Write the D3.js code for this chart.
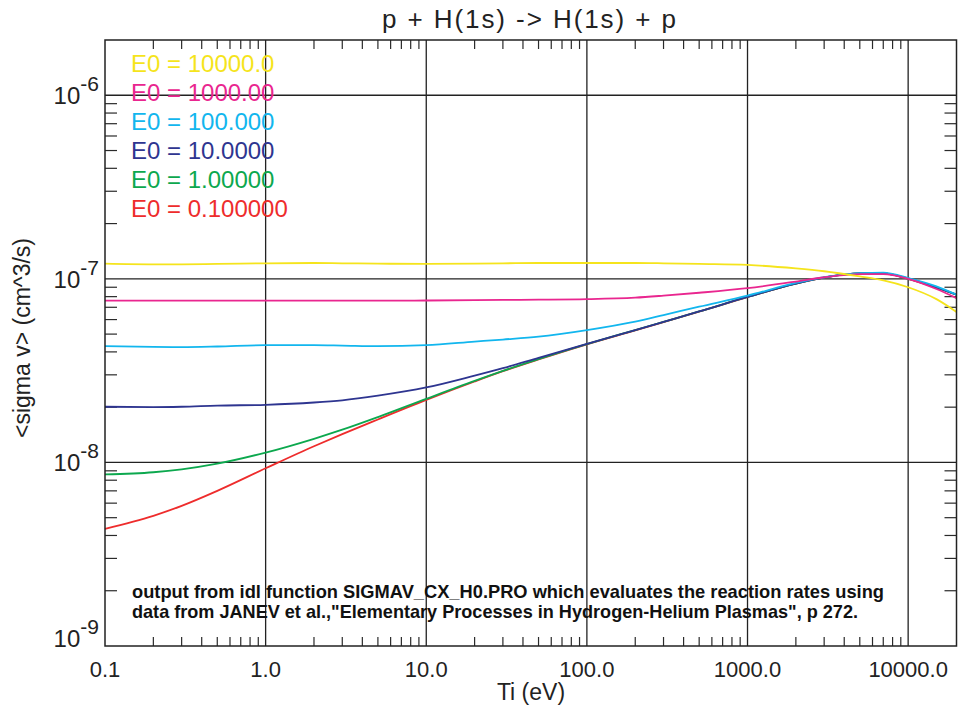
<!DOCTYPE html>
<html><head><meta charset="utf-8">
<script src="https://cdn.jsdelivr.net/npm/d3@7"></script>
<style>body{margin:0;background:#fff}svg{display:block}text{font-family:"Liberation Sans",Arial,Helvetica,sans-serif}</style>
</head><body><svg id="c" width="958" height="712"></svg>
<script>
// ---- data ----
const tiEv = [0.1,0.2,0.3,0.5,1,2,3,5,10,20,30,50,100,200,300,500,1000,2000,3000,5000,7000,10000,15000,20000];
const e0Labels = ["E0 = 10000.0","E0 = 1000.00","E0 = 100.000","E0 = 10.0000","E0 = 1.00000","E0 = 0.100000"];
const e0Colors = ["#f5e41c","#e9268f","#12b6ee","#2e3590","#0ca84e","#ee2c2c"];
const rateE0_10000 = [1.21e-7,1.20e-7,1.20e-7,1.205e-7,1.215e-7,1.22e-7,1.215e-7,1.21e-7,1.205e-7,1.21e-7,1.215e-7,1.22e-7,1.22e-7,1.22e-7,1.215e-7,1.205e-7,1.19e-7,1.14e-7,1.10e-7,1.03e-7,9.8e-8,9.0e-8,7.75e-8,6.6e-8];
const rateE0_1000  = [7.6e-8,7.6e-8,7.6e-8,7.6e-8,7.6e-8,7.6e-8,7.6e-8,7.6e-8,7.62e-8,7.65e-8,7.68e-8,7.7e-8,7.75e-8,7.9e-8,8.1e-8,8.4e-8,8.9e-8,9.67e-8,1.02e-7,1.06e-7,1.06e-7,1.0e-7,8.8e-8,7.85e-8];
const rateE0_100   = [4.3e-8,4.26e-8,4.25e-8,4.28e-8,4.35e-8,4.35e-8,4.33e-8,4.3e-8,4.35e-8,4.55e-8,4.67e-8,4.84e-8,5.26e-8,5.85e-8,6.35e-8,7.05e-8,8.1e-8,9.5e-8,1.02e-7,1.075e-7,1.08e-7,1.01e-7,9.1e-8,8.2e-8];
const rateE0_10    = [2.01e-8,2.0e-8,2.01e-8,2.04e-8,2.06e-8,2.12e-8,2.18e-8,2.31e-8,2.56e-8,2.97e-8,3.26e-8,3.71e-8,4.42e-8,5.26e-8,5.83e-8,6.64e-8,7.97e-8,9.43e-8,1.016e-7,1.07e-7,1.07e-7,1.005e-7,8.97e-8,8.2e-8];
const rateE0_1     = [8.6e-9,8.84e-9,9.17e-9,9.85e-9,1.131e-8,1.345e-8,1.507e-8,1.766e-8,2.22e-8,2.78e-8,3.153e-8,3.656e-8,4.41e-8,5.26e-8,5.83e-8,6.64e-8,7.97e-8,9.43e-8,1.016e-7,1.07e-7,1.07e-7,1.0e-7,8.95e-8,8.2e-8];
const rateE0_01    = [4.35e-9,5.12e-9,5.8e-9,7.0e-9,9.29e-9,1.225e-8,1.426e-8,1.714e-8,2.19e-8,2.76e-8,3.14e-8,3.64e-8,4.40e-8,5.24e-8,5.81e-8,6.62e-8,7.95e-8,9.42e-8,1.015e-7,1.07e-7,1.07e-7,1.0e-7,8.95e-8,8.2e-8];
const xTickValues = [0.1,1,10,100,1000,10000];
const xTickLabels = ["0.1","1.0","10.0","100.0","1000.0","10000.0"];
const yTickValues = [1e-9,1e-8,1e-7,1e-6];
const yTickExponents = ["-9","-8","-7","-6"];
const titleText = "p + H(1s) -> H(1s) + p";
const xTitle = "Ti (eV)";
const yTitle = "<sigma v> (cm^3/s)";
const noteLines = ["output from idl function SIGMAV_CX_H0.PRO which evaluates the reaction rates using",
                   "data from JANEV et al.,\"Elementary Processes in Hydrogen-Helium Plasmas\", p 272."];

const seriesRates = [rateE0_10000, rateE0_1000, rateE0_100, rateE0_10, rateE0_1, rateE0_01];

// ---- layout ----
const L = 105, R = 956.5, T = 40, B = 646;
const svg = d3.select("#c");
const x = d3.scaleLog().domain([0.1, 20000]).range([L, R]);
const y = d3.scaleLog().domain([1e-9, 2e-6]).range([B, T]);

// minor ticks
const xMinor = [], yMinor = [];
for (let k = -1; k <= 3; k++) for (let m = 2; m <= 9; m++) xMinor.push(m * Math.pow(10, k));
for (let k = -9; k <= -7; k++) for (let m = 2; m <= 9; m++) yMinor.push(m * Math.pow(10, k));

const axisG = svg.append("g").attr("stroke", "#2a2a2a").attr("stroke-width", 1.2);
axisG.selectAll(".xb").data(xMinor).join("line")
  .attr("x1", d => x(d)).attr("x2", d => x(d)).attr("y1", B).attr("y2", B - 9);
axisG.selectAll(".xt").data(xMinor).join("line")
  .attr("x1", d => x(d)).attr("x2", d => x(d)).attr("y1", T).attr("y2", T + 9);
axisG.selectAll(".yl").data(yMinor).join("line")
  .attr("y1", d => y(d)).attr("y2", d => y(d)).attr("x1", L).attr("x2", L + 12);
axisG.selectAll(".yr").data(yMinor).join("line")
  .attr("y1", d => y(d)).attr("y2", d => y(d)).attr("x1", R).attr("x2", R - 12);

// grid
const gridG = svg.append("g").attr("stroke", "#222").attr("stroke-width", 1.3);
gridG.selectAll(".gx").data(xTickValues.slice(1)).join("line")
  .attr("x1", d => x(d)).attr("x2", d => x(d)).attr("y1", T).attr("y2", B);
gridG.selectAll(".gy").data(yTickValues.slice(1)).join("line")
  .attr("y1", d => y(d)).attr("y2", d => y(d)).attr("x1", L).attr("x2", R);

// curves (drawn from lowest E0 up)
const line = d3.line().x(d => x(d[0])).y(d => y(d[1])).curve(d3.curveMonotoneX);
const order = [5, 4, 3, 2, 1, 0];
svg.append("g").attr("fill", "none").attr("stroke-width", 1.8)
  .selectAll("path").data(order).join("path")
  .attr("stroke", i => e0Colors[i])
  .attr("d", i => line(tiEv.map((t, j) => [t, seriesRates[i][j]])));

// frame
svg.append("rect").attr("x", L).attr("y", T).attr("width", R - L).attr("height", B - T)
  .attr("fill", "none").attr("stroke", "#222").attr("stroke-width", 1.5);

// x tick labels
svg.append("g").attr("font-size", 22).attr("fill", "#222").attr("text-anchor", "middle")
  .selectAll("text").data(xTickValues).join("text")
  .attr("x", d => x(d)).attr("y", 677).text((d, i) => xTickLabels[i]);

// y tick labels
const yl = svg.append("g").attr("fill", "#222").attr("text-anchor", "end")
  .selectAll("text").data(yTickValues).join("text")
  .attr("x", 99).attr("y", d => Math.min(y(d) + 9, B + 1)).attr("font-size", 24);
yl.append("tspan").text("10");
yl.append("tspan").attr("font-size", 21).attr("dy", -13).text((d, i) => yTickExponents[i]);

// titles
svg.append("text").attr("x", 529).attr("y", 28).attr("font-size", 26).attr("fill", "#222")
  .attr("text-anchor", "middle").attr("textLength", 294).attr("lengthAdjust", "spacing").text(titleText);
svg.append("text").attr("x", 531).attr("y", 700).attr("font-size", 23).attr("fill", "#222")
  .attr("text-anchor", "middle").text(xTitle);
svg.append("text").attr("transform", "translate(30,338) rotate(-90)").attr("font-size", 23)
  .attr("fill", "#222").attr("text-anchor", "middle").text(yTitle);

// legend
svg.append("g").attr("font-size", 24).selectAll("text").data(e0Labels).join("text")
  .attr("x", 131).attr("y", (d, i) => 72 + 29 * i).attr("fill", (d, i) => e0Colors[i]).text(d => d);

// note
const noteWidths = [752, 726];
svg.append("g").attr("font-size", 19).attr("font-weight", "bold").attr("fill", "#111")
  .selectAll("text").data(noteLines).join("text")
  .attr("x", 132).attr("y", (d, i) => 598 + 20 * i)
  .attr("textLength", (d, i) => noteWidths[i]).attr("lengthAdjust", "spacingAndGlyphs")
  .text(d => d);
</script></body></html>
